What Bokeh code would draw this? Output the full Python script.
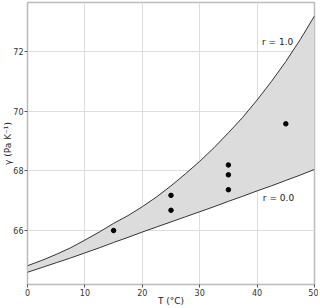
from bokeh.plotting import figure
from bokeh.embed import file_html
from bokeh.resources import INLINE
from bokeh.models import Range1d, FixedTicker, Label

# Curve grid (temperature, deg C)
T_curve = [0, 2.5, 5, 7.5, 10, 12.5, 15, 17.5, 20, 22.5, 25, 27.5, 30, 32.5, 35, 37.5, 40, 42.5, 45, 47.5, 50]
gamma_r1 = [64.82, 65.0, 65.2, 65.42, 65.68, 65.95, 66.24, 66.5, 66.8, 67.13, 67.5, 67.9, 68.32,
            68.78, 69.28, 69.8, 70.38, 71.0, 71.67, 72.4, 73.2]
gamma_r0 = [64.6, 64.76, 64.92, 65.08, 65.25, 65.42, 65.6, 65.77, 65.95, 66.12, 66.29, 66.46, 66.63,
            66.8, 66.98, 67.15, 67.33, 67.5, 67.68, 67.86, 68.05]

# Observations
T_obs = [15, 25, 25, 35, 35, 35, 45]
gamma_obs = [66.0, 67.18, 66.68, 68.2, 67.87, 67.37, 69.58]

x_ticks = [0, 10, 20, 30, 40, 50]
y_ticks = [66, 68, 70, 72]

p = figure(width=318, height=308, output_backend="svg", toolbar_location=None,
           x_range=Range1d(0, 50), y_range=Range1d(64.19, 73.65),
           min_border_left=0, min_border_right=4, min_border_top=2, min_border_bottom=0)
p.background_fill_color = "white"
p.outline_line_color = "#bbbbbb"
p.outline_line_width = 1.5

for ax in (p.xaxis[0], p.yaxis[0]):
    ax.axis_line_color = None
    ax.major_tick_line_color = "#555555"
    ax.major_tick_out = 3
    ax.major_tick_in = 0
    ax.minor_tick_line_color = None
    ax.major_label_text_font = "DejaVu Sans"
    ax.major_label_text_font_size = "8px"
    ax.major_label_text_color = "#333333"
    ax.axis_label_text_font = "DejaVu Sans"
    ax.axis_label_text_font_size = "9px"
    ax.axis_label_text_font_style = "normal"
    ax.axis_label_text_color = "#222222"
    ax.major_label_standoff = 1
    ax.axis_label_standoff = -3

p.xaxis.ticker = FixedTicker(ticks=x_ticks)
p.yaxis.ticker = FixedTicker(ticks=y_ticks)
p.xaxis.axis_label = "T (\u00b0C)"
p.yaxis.axis_label = "\u03b3 (Pa K\u207b\u00b9)"

p.grid.grid_line_color = "#dddddd"
p.grid.grid_line_width = 1

p.varea(x=T_curve, y1=gamma_r0, y2=gamma_r1, fill_color="#dcdcdc", fill_alpha=1)
p.line(T_curve, gamma_r1, line_color="#333333", line_width=1)
p.line(T_curve, gamma_r0, line_color="#333333", line_width=1)
p.scatter(T_obs, gamma_obs, size=4.5, color="black")

p.add_layout(Label(x=46.3, y=72.31, text="r = 1.0", text_align="right", text_baseline="middle",
                   text_font="DejaVu Sans", text_font_size="9px", text_color="#222222"))
p.add_layout(Label(x=41.0, y=67.1, text="r = 0.0", text_align="left", text_baseline="middle",
                   text_font="DejaVu Sans", text_font_size="9px", text_color="#222222"))

open("out.html", "w").write(file_html(p, INLINE))
